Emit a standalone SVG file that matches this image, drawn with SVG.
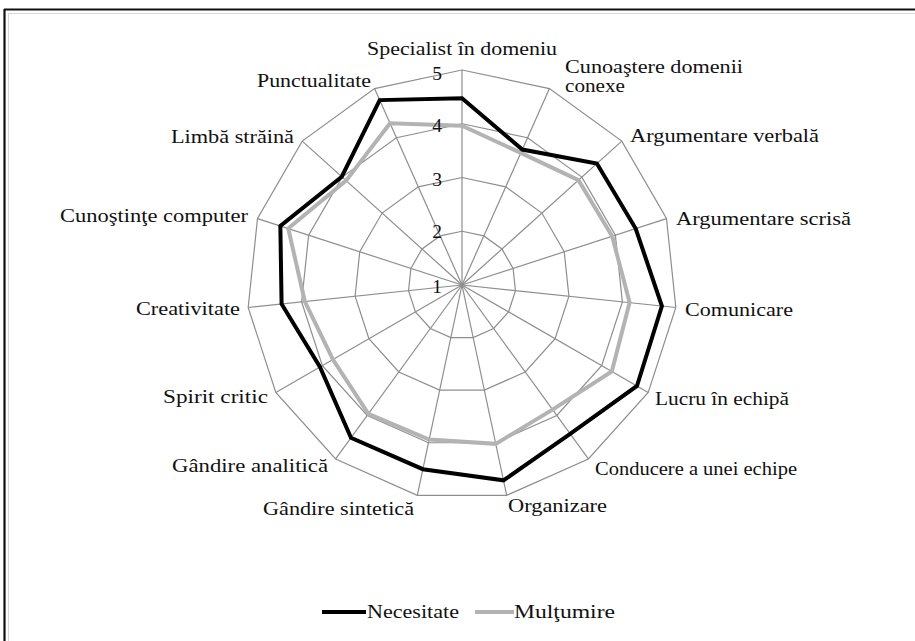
<svg xmlns="http://www.w3.org/2000/svg" xmlns:xlink="http://www.w3.org/1999/xlink" width="915" height="641" viewBox="0 0 915 641">
  <style>
    .lbl { font-family: "Liberation Serif", "Times New Roman", "DejaVu Serif", serif; font-size: 19.5px; fill: #111; }
    .tick { font-family: "Liberation Serif", "Times New Roman", "DejaVu Serif", serif; font-size: 19.5px; fill: #111; text-anchor: end; }
    .grid { fill: none; stroke: #8e8e8e; stroke-width: 1.2; vector-effect: non-scaling-stroke; }
    .need { fill: none; stroke: #000; stroke-width: 4; stroke-linejoin: miter; }
    .sat { fill: none; stroke: #b3b3b3; stroke-width: 4; stroke-linejoin: miter; }
  </style>
  <defs>
    <!-- 15-sided unit ring, radius 100, first vertex straight up -->
    <polygon id="ring" class="grid" points="0,-100 40.674,-91.355 74.314,-66.913 95.106,-30.902 99.452,10.453 86.603,50 58.779,80.902 20.791,97.815 -20.791,97.815 -58.779,80.902 -86.603,50 -99.452,10.453 -95.106,-30.902 -74.314,-66.913 -40.674,-91.355"/>
    <line id="spoke" class="grid" x1="0" y1="0" x2="0" y2="-215"/>
  </defs>

  <rect x="0" y="0" width="915" height="641" fill="#fff"/>

  <!-- frame -->
  <g id="frame">
    <line x1="4" y1="9.5" x2="915" y2="9.5" stroke="#111" stroke-width="2.2"/>
    <line x1="4.5" y1="9" x2="4.5" y2="641" stroke="#111" stroke-width="2.2"/>
    <line x1="8" y1="13.5" x2="915" y2="13.5" stroke="#d8d8d8" stroke-width="1"/>
    <line x1="8.5" y1="13" x2="8.5" y2="641" stroke="#d8d8d8" stroke-width="1"/>
  </g>

  <!-- radar grid -->
  <g id="grid" transform="translate(462,285)">
    <use xlink:href="#ring" transform="scale(0.5375)"/>
    <use xlink:href="#ring" transform="scale(1.075)"/>
    <use xlink:href="#ring" transform="scale(1.6125)"/>
    <use xlink:href="#ring" transform="scale(2.15)"/>
    <use xlink:href="#spoke"/>
    <use xlink:href="#spoke" transform="rotate(24)"/>
    <use xlink:href="#spoke" transform="rotate(48)"/>
    <use xlink:href="#spoke" transform="rotate(72)"/>
    <use xlink:href="#spoke" transform="rotate(96)"/>
    <use xlink:href="#spoke" transform="rotate(120)"/>
    <use xlink:href="#spoke" transform="rotate(144)"/>
    <use xlink:href="#spoke" transform="rotate(168)"/>
    <use xlink:href="#spoke" transform="rotate(192)"/>
    <use xlink:href="#spoke" transform="rotate(216)"/>
    <use xlink:href="#spoke" transform="rotate(240)"/>
    <use xlink:href="#spoke" transform="rotate(264)"/>
    <use xlink:href="#spoke" transform="rotate(288)"/>
    <use xlink:href="#spoke" transform="rotate(312)"/>
    <use xlink:href="#spoke" transform="rotate(336)"/>
  </g>

  <!-- data series -->
  <g id="series" transform="translate(462,285)">
    <polygon id="series-multumire" class="sat" points="0,-159.3 58.81,-132.1 116.45,-104.85 150.17,-48.79 167.58,17.61 149.82,86.5 90.52,124.59 33.76,158.85 -32.85,154.55 -93.63,128.88 -129.04,74.5 -157.13,16.52 -173.76,-56.46 -115.93,-104.38 -71.99,-161.7"/>
    <polygon id="series-necesitate" class="need" points="0,-186.7 60.32,-135.48 134.88,-121.45 173.66,-56.43 199.9,21.01 174.94,101 108.15,148.86 41.52,195.34 -39.15,184.19 -111.03,152.82 -142.03,82 -180.41,18.96 -181.65,-59.02 -120.24,-108.27 -82.32,-184.9"/>
  </g>

  <!-- scale values -->
  <g id="ticks">
    <text class="tick" x="442" y="80">5</text>
    <text class="tick" x="442" y="132">4</text>
    <text class="tick" x="442" y="186">3</text>
    <text class="tick" x="442" y="238">2</text>
    <text class="tick" x="442" y="293">1</text>
  </g>

  <!-- axis labels -->
  <g id="labels">
    <text class="lbl" x="367" y="55" textLength="190" lengthAdjust="spacingAndGlyphs">Specialist în domeniu</text>
    <text class="lbl" x="565" y="73" textLength="178" lengthAdjust="spacingAndGlyphs">Cunoaştere domenii</text>
    <text class="lbl" x="565" y="92" textLength="60" lengthAdjust="spacingAndGlyphs">conexe</text>
    <text class="lbl" x="630" y="142" textLength="189" lengthAdjust="spacingAndGlyphs">Argumentare verbală</text>
    <text class="lbl" x="676" y="225" textLength="175" lengthAdjust="spacingAndGlyphs">Argumentare scrisă</text>
    <text class="lbl" x="685" y="316" textLength="108" lengthAdjust="spacingAndGlyphs">Comunicare</text>
    <text class="lbl" x="655" y="405" textLength="134" lengthAdjust="spacingAndGlyphs">Lucru în echipă</text>
    <text class="lbl" x="595" y="475" textLength="202" lengthAdjust="spacingAndGlyphs">Conducere a unei echipe</text>
    <text class="lbl" x="508" y="512" textLength="99" lengthAdjust="spacingAndGlyphs">Organizare</text>
    <text class="lbl" x="263" y="515" textLength="151" lengthAdjust="spacingAndGlyphs">Gândire sintetică</text>
    <text class="lbl" x="172" y="472" textLength="156" lengthAdjust="spacingAndGlyphs">Gândire analitică</text>
    <text class="lbl" x="163" y="403" textLength="105" lengthAdjust="spacingAndGlyphs">Spirit critic</text>
    <text class="lbl" x="136" y="315" textLength="104" lengthAdjust="spacingAndGlyphs">Creativitate</text>
    <text class="lbl" x="60" y="222" textLength="188" lengthAdjust="spacingAndGlyphs">Cunoştinţe computer</text>
    <text class="lbl" x="171" y="143" textLength="123" lengthAdjust="spacingAndGlyphs">Limbă străină</text>
    <text class="lbl" x="257" y="87" textLength="114" lengthAdjust="spacingAndGlyphs">Punctualitate</text>
  </g>

  <!-- legend -->
  <g id="legend">
    <line x1="322" y1="612" x2="366" y2="612" stroke="#000" stroke-width="4"/>
    <text class="lbl" x="367" y="618" textLength="92" lengthAdjust="spacingAndGlyphs">Necesitate</text>
    <line x1="475" y1="612" x2="514" y2="612" stroke="#b3b3b3" stroke-width="4"/>
    <text class="lbl" x="514" y="618" textLength="101" lengthAdjust="spacingAndGlyphs">Mulţumire</text>
  </g>
</svg>
